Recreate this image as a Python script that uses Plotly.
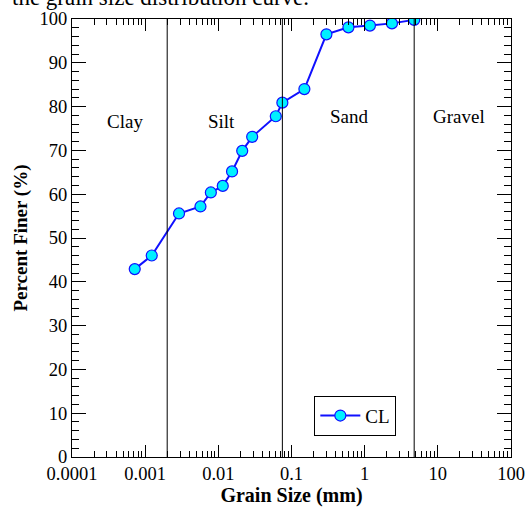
import math
import plotly.graph_objects as go

grain_size = [0.00072, 0.00123, 0.0029, 0.0057, 0.0079, 0.0115, 0.0154, 0.0212, 0.029,
              0.061, 0.075, 0.15, 0.30, 0.60, 1.18, 2.36, 4.75]
percent_finer = [42.9, 46.0, 55.6, 57.2, 60.4, 61.9, 65.2, 69.9, 73.1,
                 77.8, 80.9, 84.0, 96.5, 98.1, 98.5, 99.0, 99.8]
boundaries = [0.002, 0.075, 4.75]
region_names = ["Clay", "Silt", "Sand", "Gravel"]
region_x = [0.00053, 0.0112, 0.63, 19.5]
region_y = [76.5, 76.5, 77.8, 77.8]
x_tickvals = [0.0001, 0.001, 0.01, 0.1, 1, 10, 100]
x_ticktext = ["0.0001", "0.001", "0.01", "0.1", "1", "10", "100"]

FONT = "Liberation Serif"

minor_x = [m * d for d in x_tickvals[:-1] for m in range(2, 10)]

fig = go.Figure()
fig.add_trace(go.Scatter(
    x=grain_size, y=percent_finer, mode="lines+markers", name="CL",
    line=dict(color="#1010ff", width=2),
    marker=dict(color="#00f0ff", size=11, line=dict(color="#1010ff", width=1.2)),
))

for b in boundaries:
    fig.add_shape(type="line", xref="x", yref="paper", x0=b, x1=b, y0=0, y1=1,
                  line=dict(color="black", width=1))

for name, rx, ry in zip(region_names, region_x, region_y):
    fig.add_annotation(x=math.log10(rx), y=ry, xref="x", yref="y", text=name, showarrow=False,
                       xanchor="center", yanchor="middle",
                       font=dict(family=FONT, size=19, color="black"))

fig.add_annotation(xref="paper", yref="paper", x=-0.141, y=1.048,
                   text="the grain size distribution curve.", showarrow=False,
                   xanchor="left", yanchor="middle",
                   font=dict(family=FONT, size=23, color="black"))

fig.update_layout(
    width=530, height=508,
    margin=dict(l=72, r=19, t=19, b=51, autoexpand=False),
    paper_bgcolor="white", plot_bgcolor="white",
    font=dict(family=FONT, size=18, color="black"),
    showlegend=True,
    legend=dict(x=0.552, y=0.14, xanchor="left", yanchor="top",
                bgcolor="white", bordercolor="black", borderwidth=1,
                font=dict(family=FONT, size=19), itemwidth=40),
    xaxis=dict(
        type="log", range=[-4, 2], tickvals=x_tickvals, ticktext=x_ticktext,
        ticks="inside", ticklen=12, tickcolor="black", tickwidth=1,
        showline=True, linecolor="black", linewidth=1, mirror="ticks",
        showgrid=False, zeroline=False, automargin=False,
        minor=dict(ticks="inside", ticklen=6, tickcolor="black", tickwidth=1, showgrid=False,
                   tickmode="array", tickvals=minor_x),
        title=dict(text="<b>Grain Size (mm)</b>", font=dict(family=FONT, size=20), standoff=2),
        tickfont=dict(family=FONT, size=18.5),
    ),
    yaxis=dict(
        range=[0, 100], dtick=10, tick0=0,
        ticks="inside", ticklen=14, tickcolor="black", tickwidth=1,
        showline=True, linecolor="black", linewidth=1, mirror="ticks",
        showgrid=False, zeroline=False, automargin=False,
        minor=dict(ticks="inside", ticklen=7, dtick=2, tickcolor="black", tickwidth=1, showgrid=False),
        title=dict(text="<b>Percent Finer (%)</b>", font=dict(family=FONT, size=19), standoff=6),
        tickfont=dict(family=FONT, size=18.5),
    ),
)

fig.write_html("out.html")
